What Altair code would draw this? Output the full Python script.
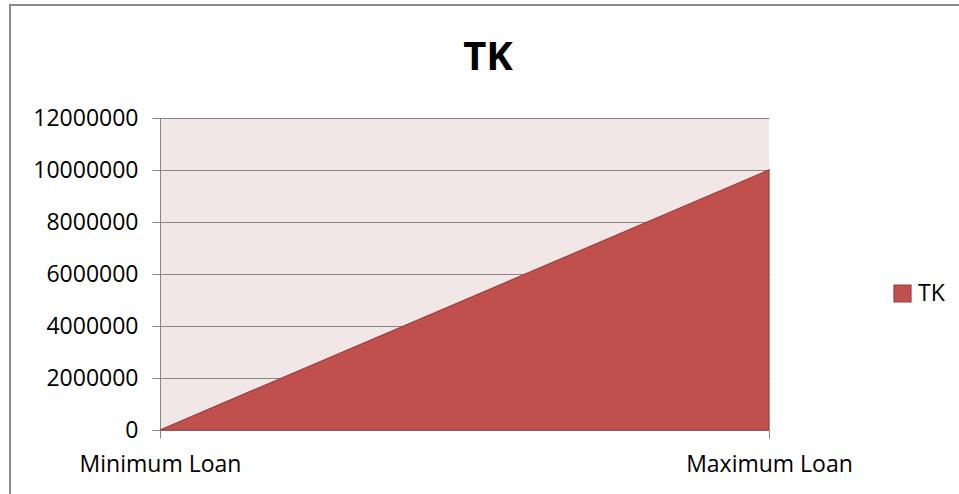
import altair as alt
import pandas as pd

# Loan range in TK
categories = ["Minimum Loan", "Maximum Loan"]
amounts = [0, 10000000]
series = ["TK", "TK"]
y_ticks = [0, 2000000, 4000000, 6000000, 8000000, 10000000, 12000000]

df = pd.DataFrame({"loan": categories, "amount": amounts, "series": series})

FONT = "Open Sans"
GREY = "#868686"
FILL = "#C0504D"
EDGE = "#9B3F3C"

blank = pd.DataFrame({"k": [0]})

# outer chart-area border (top and left edges)
frame_top = alt.Chart(blank).mark_rule(color="#8C8C8C", strokeWidth=2).encode(
    x=alt.value(-150), x2=alt.value(800), y=alt.value(-113)
)
frame_left = alt.Chart(blank).mark_rule(color="#8C8C8C", strokeWidth=2).encode(
    x=alt.value(-150), y=alt.value(-114), y2=alt.value(380)
)

# chart title, centred on the chart area
title = alt.Chart(blank).mark_text(
    text="TK", font=FONT, fontSize=40, fontWeight="bold", color="#000000",
    align="center", baseline="alphabetic",
).encode(x=alt.value(328), y=alt.value(-48))

area = alt.Chart(df).mark_area(
    stroke=EDGE, strokeWidth=1.2, opacity=1
).encode(
    x=alt.X(
        "loan:N", sort=categories,
        scale=alt.Scale(type="point", padding=0),
        axis=alt.Axis(
            title=None, labelAngle=0, grid=False,
            domainColor=GREY, tickColor=GREY, tickSize=8,
            labelFont=FONT, labelFontSize=23, labelColor="#000000",
            labelPadding=15,
        ),
    ),
    y=alt.Y(
        "amount:Q",
        scale=alt.Scale(domain=[0, 12000000], nice=False),
        axis=alt.Axis(
            title=None, values=y_ticks, format="d",
            grid=True, gridColor=GREY, gridWidth=1,
            domainColor=GREY, tickColor=GREY, tickSize=8,
            labelFont=FONT, labelFontSize=23, labelColor="#000000",
            labelPadding=14,
        ),
    ),
    color=alt.Color(
        "series:N",
        scale=alt.Scale(range=[FILL]),
        legend=alt.Legend(
            title=None, orient="none", legendX=731, legendY=164,
            symbolType="square", symbolSize=289,
            symbolStrokeColor=EDGE, symbolStrokeWidth=1.2,
            labelFont=FONT, labelFontSize=23, labelColor="#000000",
            labelOffset=4,
        ),
    ),
)

chart = alt.layer(frame_top, frame_left, area, title).properties(
    width=609,
    height=312,
    padding={"left": 160, "top": 118, "right": 190, "bottom": 64},
    autosize="none",
    background="#FFFFFF",
).configure_view(
    fill="#F2E7E7", strokeWidth=0
)

chart.save("out.html", embed_options={"renderer": "svg", "actions": False})
